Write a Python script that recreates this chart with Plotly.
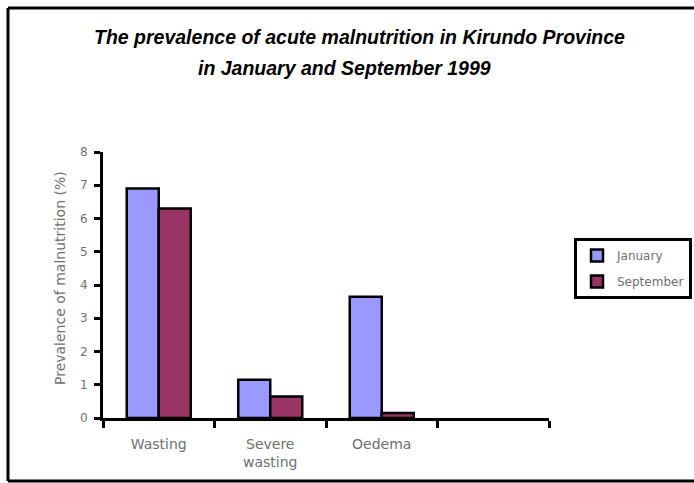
import plotly.graph_objects as go

# Categories (last slot intentionally left blank on the axis)
categories = ["Wasting", "Severe<br>wasting", "Oedema", " "]
january = [6.9, 1.15, 3.65, None]
september = [6.3, 0.65, 0.15, None]
series_names = ["January", "September"]
y_ticks = [0, 1, 2, 3, 4, 5, 6, 7, 8]

W, H = 694, 483
L, R, T, B = 103, 549, 152, 418  # plot area in pixels


def px(x):
    return (x - L) / (R - L)


def py(y):
    return (B - y) / (B - T)


grey = "#707070"
body_font = "DejaVu Sans, Verdana, sans-serif"
title_font = "Liberation Sans, Arial, sans-serif"

fig = go.Figure()
fig.add_trace(go.Bar(
    x=categories, y=january, name=series_names[0], legendgroup="a",
    marker=dict(color="#9999FF", line=dict(color="black", width=2.5)),
))
fig.add_trace(go.Bar(
    x=categories, y=september, name=series_names[1], legendgroup="b",
    marker=dict(color="#993366", line=dict(color="black", width=2.5)),
))

# Outer frame: left, top and bottom edges
frame = [
    (8, 8, 8, 481),
    (8, 8, 700, 8),
    (8, 481, 700, 481),
]
shapes = [
    dict(type="line", xref="paper", yref="paper",
         x0=px(a), y0=py(b), x1=px(c), y1=py(d),
         line=dict(color="black", width=3), layer="below")
    for a, b, c, d in frame
]

fig.update_layout(
    width=W, height=H,
    margin=dict(l=L, r=W - R, t=T, b=H - B, autoexpand=False),
    paper_bgcolor="white", plot_bgcolor="white",
    barmode="group", bargap=0.426, bargroupgap=0,
    font=dict(family=body_font, color=grey, size=12),
    showlegend=True,
    legend=dict(
        x=px(574), y=py(238), xanchor="left", yanchor="top",
        bordercolor="black", borderwidth=3, bgcolor="white",
        font=dict(size=12, color=grey), tracegroupgap=7,
        traceorder="grouped", itemwidth=30,
    ),
    xaxis=dict(
        type="category", categoryorder="array", categoryarray=categories,
        range=[-0.5, 3.5], showline=True, linecolor="black", linewidth=3,
        ticks="outside", tickson="boundaries", ticklen=7, tickwidth=3,
        tickcolor="black", showgrid=False, zeroline=False,
        tickfont=dict(size=14, color=grey), ticklabelstandoff=11,
    ),
    yaxis=dict(
        range=[0, 8], tickvals=y_ticks, showline=True, linecolor="black",
        linewidth=3, ticks="outside", ticklen=6, tickwidth=3,
        tickcolor="black", showgrid=False, zeroline=False,
        tickfont=dict(size=12, color=grey), ticklabelstandoff=4,
    ),
    shapes=shapes,
    annotations=[
        dict(
            text="<b><i>The prevalence of acute malnutrition in Kirundo Province</i></b>",
            xref="paper", yref="paper", x=px(359), y=py(37),
            showarrow=False, font=dict(family=title_font, size=19.5, color="black"),
            xanchor="center", yanchor="middle",
        ),
        dict(
            text="<b><i>in January and September 1999</i></b>",
            xref="paper", yref="paper", x=px(344), y=py(68),
            showarrow=False, font=dict(family=title_font, size=19.5, color="black"),
            xanchor="center", yanchor="middle",
        ),
        dict(
            text="Prevalence of malnutrition (%)",
            xref="paper", yref="paper", x=px(60), y=py(278),
            showarrow=False, textangle=-90, font=dict(size=14, color=grey),
            xanchor="center", yanchor="middle",
        ),
    ],
)

fig.write_html("out.html")
